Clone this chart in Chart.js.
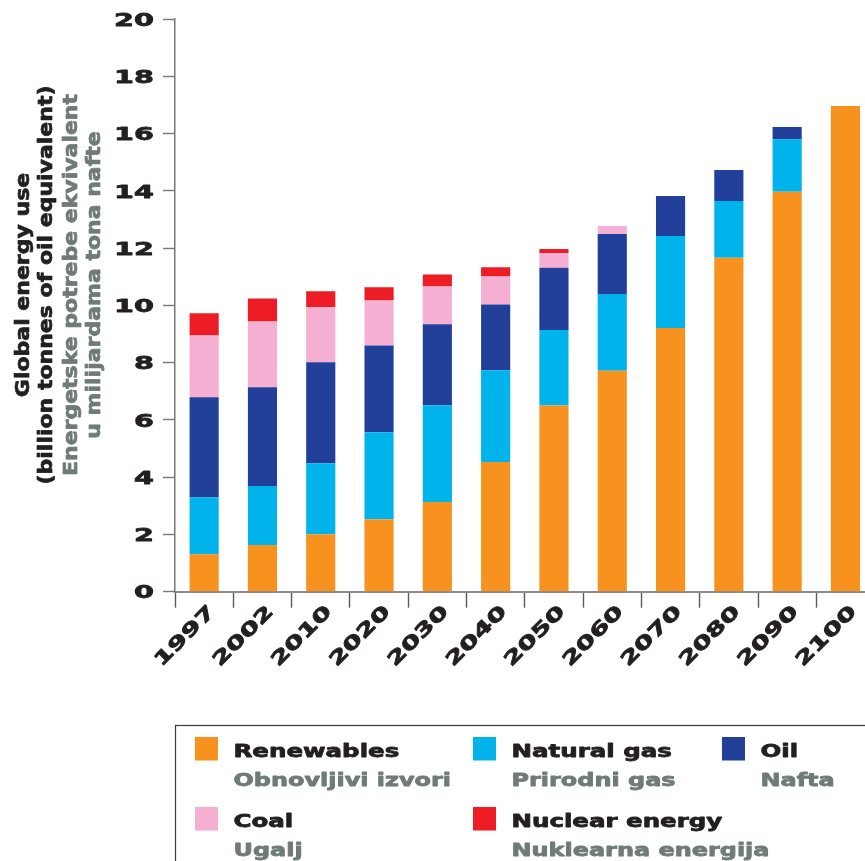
<!DOCTYPE html>
<html>
<head>
<meta charset="utf-8">
<script src="https://cdn.jsdelivr.net/npm/chart.js@4/dist/chart.umd.min.js"></script>
<style>
  html, body { margin: 0; padding: 0; background: #ffffff; overflow: hidden; }
  #wrap { width: 865px; height: 861px; overflow: hidden; position: relative; }
  canvas { position: absolute; left: 0; top: 0; }
</style>
</head>
<body>
<div id="wrap"><canvas id="c" width="900" height="861"></canvas></div>
<script>
// Global energy use by source, billion tonnes of oil equivalent
const years = ['1997', '2002', '2010', '2020', '2030', '2040', '2050', '2060', '2070', '2080', '2090', '2100'];
const renewables = [1.31, 1.63, 2.01, 2.53, 3.13, 4.53, 6.50, 7.72, 9.21, 11.66, 13.97, 16.96];
const naturalGas = [1.99, 2.06, 2.48, 3.04, 3.38, 3.20, 2.64, 2.68, 3.21, 1.98, 1.83, 0];
const oil        = [3.49, 3.45, 3.52, 3.03, 2.83, 2.30, 2.17, 2.09, 1.40, 1.09, 0.43, 0];
const coal       = [2.16, 2.30, 1.92, 1.57, 1.32, 0.98, 0.52, 0.28, 0, 0, 0, 0];
const nuclear    = [0.77, 0.80, 0.56, 0.46, 0.42, 0.32, 0.14, 0, 0, 0, 0, 0];
const yTicks = { min: 0, max: 20, step: 2 };

const seriesNames = [
  ['Renewables', 'Obnovljivi izvori'],
  ['Natural gas', 'Prirodni gas'],
  ['Oil', 'Nafta'],
  ['Coal', 'Ugalj'],
  ['Nuclear energy', 'Nuklearna energija']
];
const axisTitle = [
  ['Global energy use', 'dark'],
  ['(billion tonnes of oil equivalent)', 'dark'],
  ['Energetske potrebe ekvivalent', 'grey'],
  ['u milijardama tona nafte', 'grey']
];

const COLORS = ['#f7921e', '#00b3ea', '#223f99', '#f4afd2', '#ee1d25'];
const DARK = '#231f20';
const GREY = '#6f7b77';
const FONT = '"DejaVu Sans", sans-serif';

// Wide, heavy lettering: stretched horizontally and thickened with a thin outline
function wideText(ctx, text, x, y, opts) {
  ctx.save();
  ctx.translate(x, y);
  if (opts.rotate) ctx.rotate(opts.rotate);
  ctx.scale(opts.stretch, 1);
  ctx.font = 'bold ' + opts.size + 'px ' + FONT;
  ctx.fillStyle = opts.color;
  ctx.strokeStyle = opts.color;
  ctx.lineWidth = opts.weight || 0.6;
  ctx.lineJoin = 'round';
  ctx.textAlign = opts.align || 'left';
  ctx.textBaseline = 'alphabetic';
  ctx.fillText(text, 0, 0);
  ctx.strokeText(text, 0, 0);
  ctx.restore();
}

const annotations = {
  id: 'annotations',
  afterDraw(chart) {
    const ctx = chart.ctx;
    const xs = chart.scales.x, ys = chart.scales.y;

    // y tick labels
    ys.ticks.forEach(t => {
      const y = ys.getPixelForValue(t.value);
      wideText(ctx, String(t.value), 154, y + 6.7, { size: 18.5, stretch: 1.55, color: DARK, align: 'right', weight: 0.8 });
    });

    // x tick labels, rotated 45 degrees
    chart.data.labels.forEach((lab, i) => {
      const x = xs.getPixelForValue(i);
      wideText(ctx, lab, x + 12, xs.top + 21, { size: 18.5, stretch: 1.5, color: DARK, align: 'right', rotate: -Math.PI / 4, weight: 0.8 });
    });

    // y axis title, four centred lines
    const baseX = [28.5, 52, 76.5, 100];
    axisTitle.forEach((ln, i) => {
      wideText(ctx, ln[0], baseX[i], 285, { size: 20, stretch: 1.1, color: ln[1] === 'dark' ? DARK : GREY, align: 'center', rotate: -Math.PI / 2, weight: 0.7 });
    });

    // legend box
    ctx.save();
    ctx.strokeStyle = '#3a3a3a';
    ctx.lineWidth = 1.2;
    ctx.strokeRect(175.5, 725.5, 900, 400);
    ctx.restore();

    const colX = [195, 473, 722];
    const rowY = [737, 807];
    chart.data.datasets.forEach((ds, i) => {
      const col = i < 3 ? i : i - 3;
      const row = i < 3 ? 0 : 1;
      const sx = colX[col], sy = rowY[row];
      ctx.fillStyle = ds.backgroundColor;
      ctx.fillRect(sx, sy, 23, 23.5);
      wideText(ctx, seriesNames[i][0], sx + 38.5, sy + 20.3, { size: 18, stretch: 1.36, color: DARK, weight: 0.8 });
      wideText(ctx, seriesNames[i][1], sx + 38.5, sy + 48.6, { size: 18, stretch: 1.33, color: GREY, weight: 0.8 });
    });
  }
};

const seriesValues = [renewables, naturalGas, oil, coal, nuclear];

new Chart(document.getElementById('c'), {
  type: 'bar',
  data: {
    labels: years,
    datasets: seriesValues.map((vals, i) => ({
      label: seriesNames[i][0],
      data: vals,
      backgroundColor: COLORS[i],
      borderWidth: 0,
      categoryPercentage: 1.0,
      barPercentage: 0.5
    }))
  },
  options: {
    responsive: false,
    devicePixelRatio: 1,
    animation: false,
    layout: { padding: { left: 0, top: 19, right: 25.4, bottom: 0 } },
    plugins: { legend: { display: false }, tooltip: { enabled: false } },
    scales: {
      x: {
        stacked: true,
        grid: { drawOnChartArea: false, drawTicks: true, tickLength: 16, tickColor: '#5a5a5a', tickWidth: 1.4, offset: true },
        border: { display: true, color: '#8c8c8c', width: 2 },
        ticks: { display: false },
        afterFit(scale) { scale.height = 861 - 591.7; }
      },
      y: {
        stacked: true,
        min: yTicks.min,
        max: yTicks.max,
        grid: { drawOnChartArea: false, drawTicks: true, tickLength: 12, tickColor: '#777777', tickWidth: 1.4 },
        border: { display: true, color: '#777777', width: 1.5 },
        ticks: { display: false, stepSize: yTicks.step },
        afterFit(scale) { scale.width = 175; }
      }
    }
  },
  plugins: [annotations]
});
</script>
</body>
</html>
